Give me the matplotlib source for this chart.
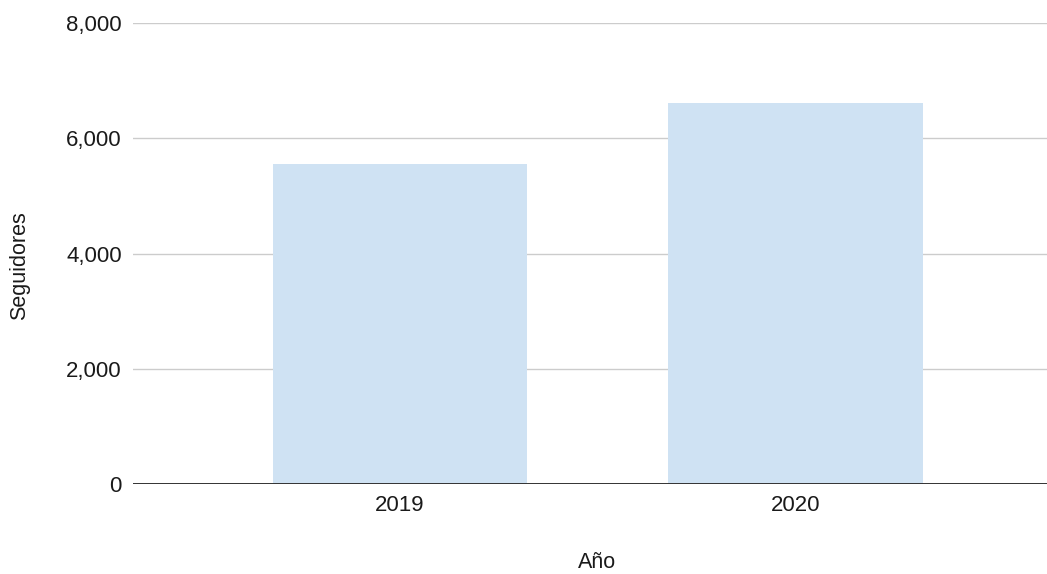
"""Seguidores por año — bar chart recreation."""

import matplotlib

matplotlib.use("Agg")
import matplotlib.pyplot as plt
from matplotlib.ticker import FuncFormatter

years = ["2019", "2020"]
followers = [5550, 6620]
y_ticks = [0, 2000, 4000, 6000, 8000]

plt.rcParams.update(
    {
        "font.family": ["Liberation Sans", "DejaVu Sans"],
        "font.size": 16,
        "text.color": "#1a1a1a",
        "axes.labelcolor": "#1a1a1a",
        "xtick.color": "#1a1a1a",
        "ytick.color": "#1a1a1a",
    }
)

fig = plt.figure(figsize=(10.47, 5.74), dpi=100)
ax = fig.add_axes([133 / 1047, (574 - 484.2) / 574, 914 / 1047, (484.2 - 23) / 574])

x = list(range(len(years)))
ax.bar(x, followers, width=0.643, color="#cfe2f3", zorder=2)

ax.set_xlim(-0.675, 1.636)
ax.set_ylim(0, 8000)
ax.set_yticks(y_ticks)
ax.yaxis.set_major_formatter(FuncFormatter(lambda v, _: f"{int(v):,}"))
ax.set_xticks(x)
ax.set_xticklabels(years)

ax.grid(axis="y", color="#cccccc", lw=1.0, zorder=0)
ax.axhline(0, color="#333333", lw=1.4, zorder=3)
for s in ax.spines.values():
    s.set_visible(False)
ax.tick_params(axis="both", length=0, pad=8, labelsize=16)

# axis titles placed by their centres
fig.text(596.7 / 1047, (574 - 563) / 574, "Año", fontsize=15.5,
         ha="center", va="center")
fig.text(20 / 1047, (574 - 266) / 574, "Seguidores", fontsize=15.5,
         rotation=90, ha="center", va="center")

fig.savefig("out.png", dpi=100)
